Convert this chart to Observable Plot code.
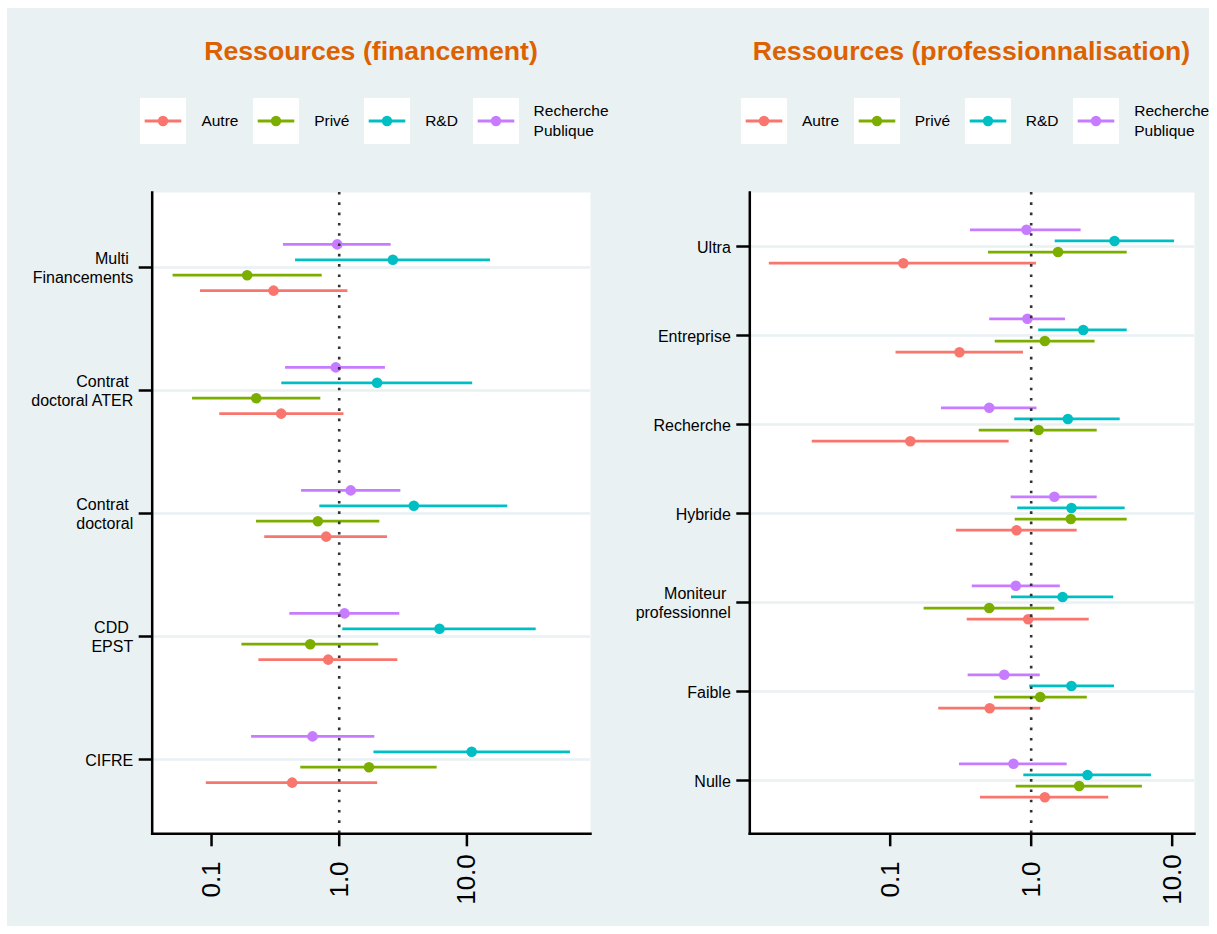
<!DOCTYPE html>
<html>
<head>
<meta charset="utf-8">
<script src="https://cdn.jsdelivr.net/npm/d3@7"></script>
<script src="https://cdn.jsdelivr.net/npm/@observablehq/plot@0.6"></script>
<style>
html, body { margin: 0; padding: 0; background: #ffffff; }
body { width: 1217px; height: 934px; position: relative; overflow: hidden; font-family: "Liberation Sans", Arial, sans-serif; }
#bg { position: absolute; left: 7px; top: 8px; width: 1202px; height: 918px; background: #E9F1F3; }
.title { position: absolute; top: 38.4px; font-weight: bold; font-size: 26.7px; line-height: 1; color: #DD6100; white-space: nowrap; transform: translateX(-50%); }
.legend { position: absolute; top: 97.7px; height: 46px; display: flex; align-items: center; white-space: nowrap; }
.key { width: 46px; height: 46px; background: #ffffff; flex: none; }
.key svg { display: block; }
.lab { margin-left: 15px; margin-right: 14.7px; font-size: 15.5px; line-height: 1.25; color: #000; }
.plotbox { position: absolute; top: 170px; }
</style>
</head>
<body>
<div id="bg"></div>
<div id="root"></div>
<script>
// ---- data ----
const seriesNames = ["Autre", "Privé", "R&D", "Recherche Publique"];
const seriesColors = ["#F8766D", "#7CAE00", "#00BFC4", "#C77CFF"];
const xTicks = [0.1, 1, 10];

// Panel 1: Ressources (financement) — [estimate, lower, upper]
const finTitle = "Ressources (financement)";
const finCategories = ["Multi\nFinancements", "Contrat\ndoctoral ATER", "Contrat\ndoctoral", "CDD\nEPST", "CIFRE"];
const finAutre = [[0.306, 0.082, 1.17], [0.351, 0.116, 1.09], [0.79, 0.261, 2.39], [0.82, 0.235, 2.88], [0.428, 0.091, 2.0]];
const finPrive = [[0.19, 0.050, 0.736], [0.224, 0.071, 0.718], [0.68, 0.225, 2.08], [0.593, 0.173, 2.04], [1.71, 0.50, 5.85]];
const finRD = [[2.63, 0.455, 15.3], [1.98, 0.355, 11.1], [3.84, 0.705, 20.9], [6.1, 1.067, 34.9], [10.9, 1.87, 64.7]];
const finRP = [[0.965, 0.366, 2.55], [0.94, 0.38, 2.3], [1.23, 0.507, 3.04], [1.10, 0.41, 2.98], [0.618, 0.206, 1.9]];
const finXDomain = [0.0343, 92.9];

// Panel 2: Ressources (professionnalisation)
const proTitle = "Ressources (professionnalisation)";
const proCategories = ["Ultra", "Entreprise", "Recherche", "Hybride", "Moniteur\nprofessionnel", "Faible", "Nulle"];
const proAutre = [[0.124, 0.0139, 1.09], [0.31, 0.11, 0.882], [0.139, 0.028, 0.698], [0.787, 0.295, 2.12], [0.952, 0.352, 2.58], [0.508, 0.221, 1.17], [1.25, 0.437, 3.55]];
const proPrive = [[1.55, 0.498, 4.8], [1.25, 0.556, 2.84], [1.13, 0.428, 2.94], [1.91, 0.77, 4.8], [0.504, 0.174, 1.47], [1.16, 0.55, 2.5], [2.19, 0.783, 6.15]];
const proRD = [[3.9, 1.48, 10.4], [2.34, 1.13, 4.8], [1.82, 0.765, 4.28], [1.93, 0.803, 4.64], [1.67, 0.725, 3.85], [1.93, 0.977, 3.9], [2.51, 0.887, 7.13]];
const proRP = [[0.926, 0.371, 2.26], [0.94, 0.508, 1.75], [0.504, 0.231, 1.10], [1.46, 0.721, 2.94], [0.778, 0.382, 1.61], [0.644, 0.357, 1.16], [0.749, 0.31, 1.8]];
const proXDomain = [0.0101, 14.4];

// ---- helpers ----
const BG = "#E9F1F3";
const dodge = {"Autre": 0.1875, "Privé": 0.0625, "R&D": -0.0625, "Recherche Publique": -0.1875};

function buildRows(cats, arrays) {
  const out = [];
  seriesNames.forEach((s, k) => arrays[k].forEach((v, i) => out.push({cat: cats[i], series: s, est: v[0], lo: v[1], hi: v[2]})));
  return out;
}

function makePanel(cats, data, xDomain, W, H, m) {
  const step = (H - m.top - m.bottom) / (cats.length - 1 + 1.2);
  const marks = [
    Plot.frame({fill: "white", stroke: "none"}),
    Plot.gridY({stroke: BG, strokeOpacity: 1, strokeWidth: 2.5})
  ];
  seriesNames.forEach(s => {
    const d = data.filter(r => r.series === s);
    const dy = dodge[s] * step;
    marks.push(Plot.ruleY(d, {y: "cat", x1: "lo", x2: "hi", stroke: "series", strokeWidth: 2.8, dy}));
    marks.push(Plot.dot(d, {x: "est", y: "cat", fill: "series", r: 5.3, dy}));
  });
  marks.push(Plot.ruleX([1], {stroke: "#333", strokeWidth: 2.6, strokeDasharray: "2.6,7.7"}));
  marks.push(Plot.frame({anchor: "left", stroke: "#000", strokeWidth: 2.5}));
  marks.push(Plot.frame({anchor: "bottom", stroke: "#000", strokeWidth: 2.5}));
  marks.push(Plot.axisY({
    tickSize: 13, tickPadding: 6, fontSize: 16, lineHeight: 1.17, strokeWidth: 2.5, label: null,
    tickFormat: d => d.replace("\n", "\u00a0\n")
  }));
  marks.push(Plot.axisX({
    ticks: xTicks, tickFormat: d => d.toFixed(1), tickSize: 13, tickRotate: -90,
    textAnchor: "middle", tickPadding: 32.7, fontSize: 26, strokeWidth: 2.5, label: null
  }));
  return Plot.plot({
    width: W, height: H,
    marginTop: m.top, marginBottom: m.bottom, marginLeft: m.left, marginRight: m.right,
    x: {type: "log", domain: xDomain, axis: null},
    y: {type: "point", domain: cats, padding: 0.6, axis: null},
    color: {domain: seriesNames, range: seriesColors},
    style: {background: "transparent", color: "#000", fontFamily: "'Liberation Sans', Arial, sans-serif", overflow: "visible"},
    marks
  });
}

function addPanel(title, cats, arrays, xDomain, left, W, m, titleX, legendX) {
  const root = document.getElementById("root");
  const chart = makePanel(cats, buildRows(cats, arrays), xDomain, W, 760, m);
  const box = document.createElement("div");
  box.className = "plotbox";
  box.style.left = left + "px";
  box.appendChild(chart);
  root.appendChild(box);

  const t = document.createElement("div");
  t.className = "title";
  t.style.left = titleX + "px";
  t.textContent = title;
  root.appendChild(t);

  const color = chart.scale("color");
  const lg = document.createElement("div");
  lg.className = "legend";
  lg.style.left = legendX + "px";
  seriesNames.forEach(s => {
    const key = document.createElement("div");
    key.className = "key";
    const c = color.apply(s);
    key.innerHTML = `<svg width="46" height="46"><line x1="4.7" x2="41.3" y1="23" y2="23" stroke="${c}" stroke-width="3"/><circle cx="23" cy="23" r="5.2" fill="${c}"/></svg>`;
    lg.appendChild(key);
    const lab = document.createElement("div");
    lab.className = "lab";
    lab.innerHTML = s === "Recherche Publique" ? "Recherche<br>Publique" : s;
    lg.appendChild(lab);
  });
  root.appendChild(lg);
}

addPanel(finTitle, finCategories, [finAutre, finPrive, finRD, finRP], finXDomain,
  0, 612, {top: 22, bottom: 96.7, left: 151.7, right: 22}, 371, 140.4);
addPanel(proTitle, proCategories, [proAutre, proPrive, proRD, proRP], proXDomain,
  612, 605, {top: 22, bottom: 96.7, left: 137.3, right: 23}, 971.5, 741);
</script>
</body>
</html>
